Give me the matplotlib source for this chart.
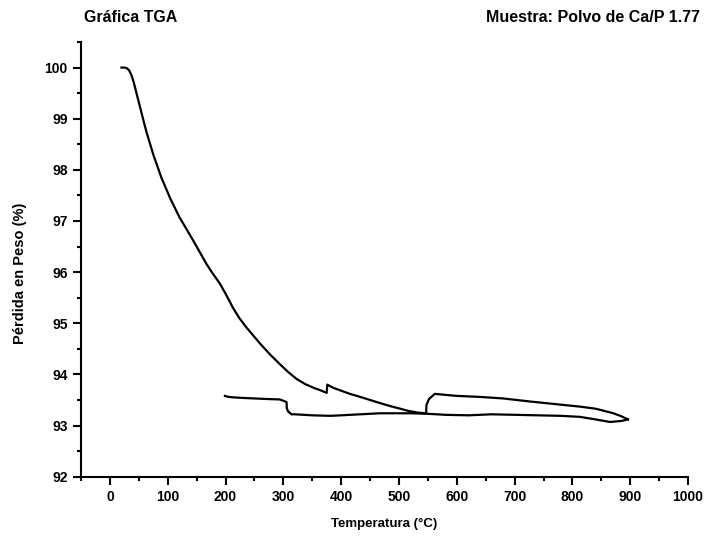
import matplotlib
matplotlib.use("Agg")
import matplotlib.pyplot as plt
from matplotlib.ticker import MultipleLocator

plt.rcParams['font.family'] = ['Liberation Sans', 'DejaVu Sans']

# Heating segment (temperature °C, weight %)
heat_T = [20, 25, 29, 33, 37, 41, 46, 55, 63, 75, 89, 104, 120, 132, 144, 156, 167, 178,
          190, 200, 213, 224, 236, 248, 260, 277, 294, 308, 323, 338, 352, 364, 375,
          376, 386, 398, 415, 433, 450, 467, 485, 502, 515, 524, 535, 547, 547.5, 552, 562,
          580, 600, 640, 680, 727, 770, 813, 840, 871, 885, 896]
heat_W = [100.0, 100.0, 99.99, 99.95, 99.86, 99.72, 99.5, 99.1, 98.75, 98.3, 97.85, 97.45,
          97.08, 96.85, 96.62, 96.38, 96.16, 95.97, 95.78, 95.58, 95.3, 95.1, 94.92, 94.76,
          94.6, 94.39, 94.2, 94.05, 93.91, 93.81, 93.74, 93.69, 93.64, 93.8, 93.74,
          93.69, 93.62, 93.56, 93.5, 93.44, 93.38, 93.33, 93.29, 93.27, 93.25, 93.24, 93.4,
          93.52, 93.62, 93.6, 93.58, 93.56, 93.53, 93.47, 93.42, 93.37, 93.33, 93.24, 93.18,
          93.12]

# Cooling segment
cool_T = [896, 885, 865, 840, 813, 780, 740, 700, 660, 620, 580, 550, 520, 490, 467, 433,
          400, 381, 350, 320, 314, 308, 306, 305.5, 294, 270, 250, 230, 215, 205, 199]
cool_W = [93.12, 93.09, 93.07, 93.12, 93.17, 93.19, 93.2, 93.21, 93.22, 93.2, 93.21, 93.23,
          93.24, 93.24, 93.24, 93.22, 93.2, 93.19, 93.2, 93.22, 93.22, 93.28, 93.34, 93.46,
          93.51, 93.52, 93.53, 93.54, 93.55, 93.56, 93.58]

x_ticks = [0, 100, 200, 300, 400, 500, 600, 700, 800, 900, 1000]
y_ticks = [92, 93, 94, 95, 96, 97, 98, 99, 100]

fig = plt.figure(figsize=(7.08, 5.37), dpi=100)
ax = fig.add_axes([0.1144, 0.1123, 0.9718 - 0.1144, 0.9218 - 0.1123])

ax.plot(heat_T, heat_W, color='black', lw=1.6)
ax.plot(cool_T, cool_W, color='black', lw=1.6)

ax.set_xlim(-50, 1000)
ax.set_ylim(92, 100.5)
ax.set_xticks(x_ticks)
ax.set_yticks(y_ticks)
ax.xaxis.set_minor_locator(MultipleLocator(50))
ax.yaxis.set_minor_locator(MultipleLocator(0.5))

for s in ['top', 'right']:
    ax.spines[s].set_visible(False)
for s in ['left', 'bottom']:
    ax.spines[s].set_linewidth(1.5)

ax.tick_params(which='major', direction='out', length=6, width=1.5, labelsize=10, pad=3.5)
ax.tick_params(which='minor', direction='out', length=3, width=1.5)
for lab in ax.get_xticklabels() + ax.get_yticklabels():
    lab.set_fontweight('bold')

fig.text(0.5426, 1 - 524 / 537, 'Temperatura (°C)', fontsize=9.5, fontweight='bold',
         ha='center', va='center')
fig.text(20 / 708, 1 - 273 / 537, 'Pérdida en Peso (%)', fontsize=10.5, fontweight='bold',
         ha='center', va='center', rotation=90)

fig.text(84 / 708, 1 - 17 / 537, 'Gráfica TGA', fontsize=11.5, fontweight='bold',
         ha='left', va='center')
fig.text(700 / 708, 1 - 17 / 537, 'Muestra: Polvo de Ca/P 1.77', fontsize=11.5,
         fontweight='bold', ha='right', va='center')

fig.savefig('out.png', dpi=100)
